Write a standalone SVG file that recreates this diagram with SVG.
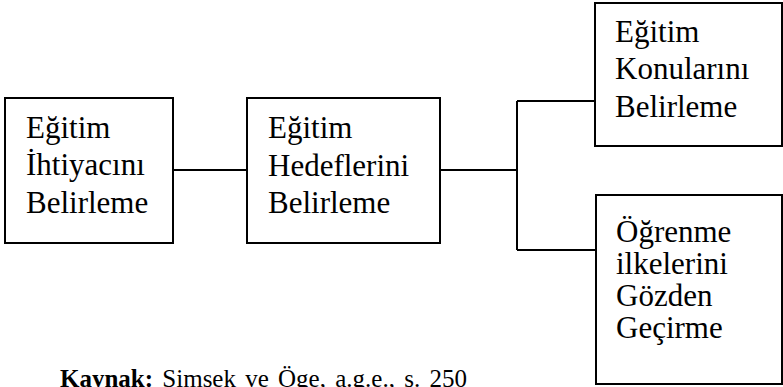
<svg xmlns="http://www.w3.org/2000/svg" width="783" height="387" viewBox="0 0 783 387">
<style>
.box{fill:#fff;stroke:#000;stroke-width:2}
.t{font-family:'Liberation Serif',serif;font-size:31px;fill:#000}
.c{stroke:#000;stroke-width:2;fill:none}
.src{font-family:'Liberation Serif',serif;font-size:25px;fill:#000;word-spacing:3px}
</style>
<rect width="783" height="387" fill="#fff"/>
<g id="connectors">
<line class="c" x1="173" y1="170" x2="247" y2="170"/>
<line class="c" x1="440" y1="170" x2="517" y2="170"/>
<line class="c" x1="517" y1="101" x2="517" y2="250"/>
<line class="c" x1="517" y1="101" x2="595" y2="101"/>
<line class="c" x1="517" y1="250" x2="596" y2="250"/>
</g>
<g id="n1">
<rect class="box" x="5" y="98" width="168" height="145"/>
<text class="t" x="26" y="138">Eğitim</text>
<text class="t" x="26" y="175">İhtiyacını</text>
<text class="t" x="26" y="213">Belirleme</text>
</g>
<g id="n2">
<rect class="box" x="247" y="98" width="193" height="145"/>
<text class="t" x="268" y="138">Eğitim</text>
<text class="t" x="268" y="176">Hedeflerini</text>
<text class="t" x="268" y="213">Belirleme</text>
</g>
<g id="n3">
<rect class="box" x="595" y="3" width="187" height="143"/>
<text class="t" x="615" y="42">Eğitim</text>
<text class="t" x="615" y="79">Konularını</text>
<text class="t" x="615" y="117">Belirleme</text>
</g>
<g id="n4">
<rect class="box" x="596" y="195" width="186" height="189"/>
<text class="t" x="616" y="242">Öğrenme</text>
<text class="t" x="616" y="274">ilkelerini</text>
<text class="t" x="616" y="306">Gözden</text>
<text class="t" x="616" y="338">Geçirme</text>
</g>
<g id="source">
<text class="src" x="60" y="387"><tspan font-weight="bold">Kaynak:</tspan> Simsek ve Öge, a.g.e., s. 250</text>
</g>
</svg>
